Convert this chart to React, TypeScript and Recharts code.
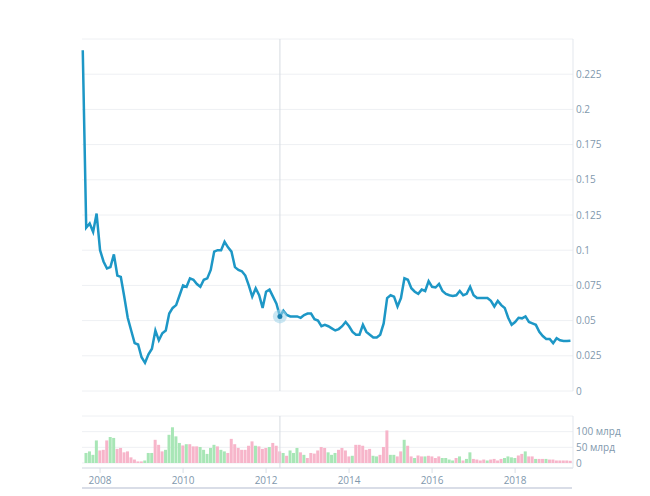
import { LineChart, Line, BarChart, Bar, Cell, XAxis, YAxis, CartesianGrid, ReferenceLine, ReferenceDot } from 'recharts';

// monthly series, first point = Aug 2007
const startYear = 2007;
const startMonth = 8;

const prices = [
  0.242, 0.116, 0.119, 0.113, 0.126, 0.1, 0.092, 0.087, 0.088, 0.097,
  0.082, 0.081, 0.067, 0.052, 0.043, 0.034, 0.033, 0.024, 0.02, 0.026,
  0.03, 0.043, 0.036, 0.041, 0.043, 0.055, 0.059, 0.061, 0.068, 0.075,
  0.074, 0.08, 0.079, 0.076, 0.074, 0.079, 0.08, 0.086, 0.099, 0.1,
  0.1, 0.106, 0.102, 0.099, 0.088, 0.086, 0.085, 0.082, 0.075, 0.067,
  0.073, 0.068, 0.059, 0.0705, 0.072, 0.067, 0.062, 0.053, 0.057, 0.054,
  0.053, 0.053, 0.053, 0.052, 0.054, 0.055, 0.055, 0.051, 0.05, 0.046,
  0.047, 0.046, 0.0445, 0.043, 0.044, 0.046, 0.049, 0.046, 0.042, 0.04,
  0.04, 0.047, 0.042, 0.04, 0.038, 0.038, 0.04, 0.048, 0.066, 0.068,
  0.067, 0.06, 0.066, 0.08, 0.079, 0.073, 0.0705, 0.069, 0.072, 0.071,
  0.078, 0.074, 0.0735, 0.076, 0.071, 0.069, 0.068, 0.0675, 0.068, 0.071,
  0.068, 0.069, 0.074, 0.068, 0.066, 0.066, 0.066, 0.066, 0.064, 0.06,
  0.064, 0.061, 0.059, 0.052, 0.047, 0.049, 0.052, 0.0516, 0.053, 0.049,
  0.048, 0.047, 0.042, 0.039, 0.037, 0.037, 0.034, 0.0375, 0.036, 0.0355,
  0.0355, 0.0357,
];

// turnover, млрд
const volumes = [
  0, 32, 37, 26, 72, 40, 42, 72, 83, 80,
  45, 48, 34, 37, 18, 11, 5, 5, 8, 32,
  32, 74, 58, 37, 42, 90, 114, 85, 64, 56,
  60, 60, 53, 53, 51, 42, 29, 48, 58, 53,
  42, 37, 32, 77, 60, 48, 42, 42, 55, 69,
  55, 53, 45, 48, 51, 64, 55, 37, 32, 23,
  40, 32, 48, 34, 26, 16, 32, 30, 40, 51,
  48, 34, 26, 32, 42, 48, 40, 21, 23, 58,
  58, 55, 42, 45, 23, 21, 26, 51, 104, 26,
  26, 21, 37, 74, 55, 21, 16, 24, 21, 21,
  23, 21, 16, 21, 16, 16, 11, 8, 16, 21,
  8, 13, 34, 13, 11, 8, 11, 8, 11, 13,
  8, 13, 16, 21, 18, 16, 24, 29, 37, 21,
  21, 13, 13, 13, 13, 11, 11, 8, 8, 8,
  8, 7,
];

// g = green bar, p = pink bar
const barColors =
  'gggggpppggpppppppp' + 'gggpppgggggpgpppgggggpggppppppppgpppgpppgpgggpgppp' +
  'pppgggppppgpppppggpppggppgppgppgppppggggpgpggppppgppppggggppgppgppgpppp';

const yearTicks = [2008, 2010, 2012, 2014, 2016, 2018];
const priceTicks = [0, 0.025, 0.05, 0.075, 0.1, 0.125, 0.15, 0.175, 0.2, 0.225];
const volumeTicks = [0, 50, 100, 150];

const activeIndex = 57;

const data = prices.map((price, i) => ({
  t: startYear + (startMonth - 1 + i) / 12,
  price,
  volume: volumes[i],
  color: barColors[i],
}));

const xDomain = [2007.565, 2019.395];
const tickStyle = { fill: '#7f98ad', fontSize: 10, fontFamily: 'Open Sans' };
const GREEN = '#a8e6b6';
const PINK = '#f7b5ca';

export default function App() {
  const active = data[activeIndex];
  return (
    <div style={{ position: 'absolute', left: 0, top: 0, width: 650, height: 496, background: '#fff' }}>
      <div style={{ position: 'absolute', left: 0, top: 0 }}>
        <LineChart width={650} height={400} data={data} margin={{ top: 39, right: 0, left: 82, bottom: 9 }}>
          <CartesianGrid vertical={false} stroke="#eef0f3" />
          <XAxis dataKey="t" type="number" domain={xDomain} hide />
          <YAxis
            orientation="right"
            width={77}
            domain={[0, 0.25]}
            ticks={priceTicks}
            interval={0}
            tick={tickStyle}
            tickLine={false}
            tickSize={0}
            tickMargin={3}
            axisLine={{ stroke: '#e3e7ed' }}
          />
          <ReferenceLine x={active.t} stroke="#d6dbe1" />
          <Line
            type="linear"
            dataKey="price"
            stroke="#1d97c6"
            strokeWidth={2.5}
            dot={false}
            activeDot={false}
            isAnimationActive={false}
          />
          <ReferenceDot x={active.t} y={active.price} r={7} fill="#9fd3ea" fillOpacity={0.55} stroke="none" />
          <ReferenceDot x={active.t} y={active.price} r={2.5} fill="#1a7fae" stroke="none" />
        </LineChart>
      </div>
      <div style={{ position: 'absolute', left: 0, top: 410 }}>
        <BarChart width={650} height={78} data={data} margin={{ top: 6, right: 0, left: 82, bottom: 0 }}>
          <CartesianGrid vertical={false} stroke="#eef0f3" />
          <XAxis
            dataKey="t"
            type="number"
            domain={xDomain}
            ticks={yearTicks}
            interval={0}
            tickFormatter={(v) => String(v)}
            tick={tickStyle}
            tickSize={5}
            tickMargin={4}
            tickLine={{ stroke: '#d9dee5' }}
            axisLine={{ stroke: '#d9dee5' }}
            height={20}
          />
          <YAxis
            orientation="right"
            width={77}
            domain={[-16, 150]}
            ticks={volumeTicks}
            interval={0}
            tickFormatter={(v) => (v === 150 ? '' : v === 0 ? '0' : `${v} млрд`)}
            tick={tickStyle}
            tickLine={false}
            tickSize={0}
            tickMargin={3}
            axisLine={{ stroke: '#e3e7ed' }}
          />
          <ReferenceLine x={active.t} stroke="#d6dbe1" />
          <Bar dataKey="volume" barSize={3} isAnimationActive={false}>
            {data.map((d, i) => (
              <Cell key={i} fill={d.color === 'g' ? GREEN : PINK} />
            ))}
          </Bar>
        </BarChart>
      </div>
      <div style={{ position: 'absolute', left: 82, top: 487, width: 490, height: 2, background: '#d9dde7' }} />
    </div>
  );
}
